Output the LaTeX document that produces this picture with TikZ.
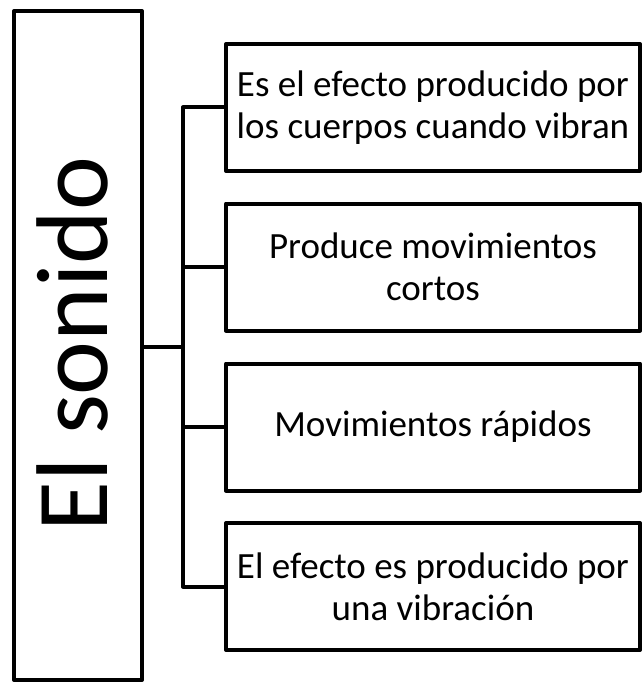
\documentclass[tikz,border=0pt]{standalone}
\usepackage{fontspec}
\setmainfont{Carlito}
\begin{document}
\begin{tikzpicture}[x=1pt,y=-1pt,
  frame/.style={draw=black,line width=4pt,line join=round,inner sep=0pt,outer sep=0pt},
  item/.style={frame,minimum width=414pt,minimum height=127pt,align=center,
    font=\fontsize{37}{42}\selectfont},
  link/.style={draw=black,line width=4pt,line join=round}]
\useasboundingbox (0,0) rectangle (643,682);
\node[frame,minimum width=128pt,minimum height=669pt] (big) at (78,345.5) {};
\node[rotate=90,anchor=base,inner sep=0pt,font=\fontsize{102}{120}\selectfont] (title) at (107,344) {El sonido};
\node[item] (b1) at (433,107.5) {Es el efecto producido por\\los cuerpos cuando vibran};
\node[item] (b2) at (433,267) {Produce movimientos\\cortos};
\node[item] (b3) at (433,427) {Movimientos rápidos};
\node[item] (b4) at (433,586.5) {El efecto es producido por\\una vibración};
\coordinate (t) at (183,347);
\draw[link] (big.east |- t) -- (t);
\draw[link] (b1.west) -- (b1.west -| t) -- (b4.west -| t) -- (b4.west);
\draw[link] (b2.west -| t) -- (b2.west);
\draw[link] (b3.west -| t) -- (b3.west);
\end{tikzpicture}
\end{document}
